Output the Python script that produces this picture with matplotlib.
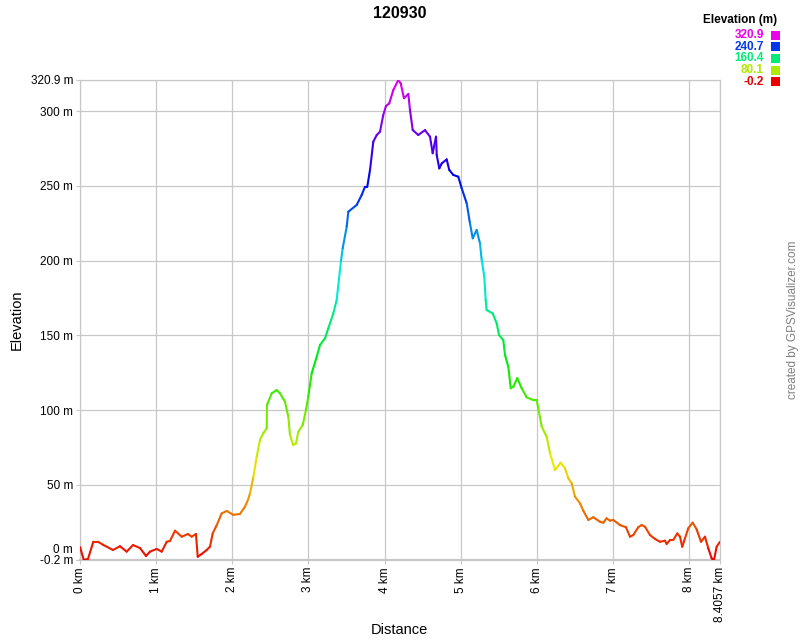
import numpy as np
import matplotlib
matplotlib.use("Agg")
import matplotlib.pyplot as plt
from matplotlib.collections import LineCollection
from matplotlib.colors import ListedColormap, Normalize, hsv_to_rgb
from matplotlib.patches import Rectangle
from matplotlib.transforms import ScaledTranslation

plt.rcParams['font.family'] = ['Liberation Sans', 'DejaVu Sans']

title = "120930"
distance_km = [
    0.000, 0.050, 0.105, 0.175, 0.236, 0.302, 0.433, 0.525, 0.613, 0.696, 0.788,
    0.867, 0.919, 1.007, 1.073, 1.139, 1.182, 1.248, 1.336, 1.418, 1.467, 1.523,
    1.546, 1.598, 1.664, 1.707, 1.743, 1.795, 1.861, 1.927, 2.013, 2.101, 2.167,
    2.206, 2.233, 2.276, 2.321, 2.364, 2.407, 2.452, 2.456, 2.518, 2.583, 2.627,
    2.692, 2.736, 2.758, 2.801, 2.837, 2.867, 2.925, 2.968, 2.998, 3.043, 3.109,
    3.152, 3.218, 3.261, 3.327, 3.371, 3.428, 3.450, 3.503, 3.524, 3.634, 3.700,
    3.743, 3.773, 3.809, 3.852, 3.897, 3.940, 3.983, 4.019, 4.062, 4.115, 4.180,
    4.212, 4.255, 4.312, 4.334, 4.370, 4.443, 4.531, 4.597, 4.632, 4.676, 4.685,
    4.719, 4.751, 4.816, 4.850, 4.903, 4.968, 5.013, 5.079, 5.122, 5.158, 5.210,
    5.253, 5.276, 5.310, 5.328, 5.341, 5.420, 5.473, 5.503, 5.559, 5.582, 5.625,
    5.657, 5.691, 5.743, 5.801, 5.867, 5.953, 5.998, 6.019, 6.064, 6.129, 6.173,
    6.238, 6.313, 6.370, 6.413, 6.458, 6.501, 6.567, 6.610, 6.676, 6.742, 6.829,
    6.873, 6.917, 6.961, 7.004, 7.092, 7.171, 7.223, 7.267, 7.332, 7.377, 7.420,
    7.486, 7.552, 7.617, 7.683, 7.705, 7.749, 7.792, 7.845, 7.880, 7.910, 7.946,
    7.989, 8.047, 8.099, 8.156, 8.208, 8.252, 8.296, 8.327, 8.362, 8.4057,
]
elevation_m = [
    8.5, -0.2, 0.5, 12.0, 12.0, 10.0, 6.5, 9.0, 5.4, 9.8, 7.8,
    2.5, 5.4, 7.2, 5.4, 12.0, 12.5, 19.4, 15.4, 17.2, 15.4, 17.2,
    2.0, 3.8, 6.5, 8.7, 17.6, 23.0, 31.0, 32.6, 30.0, 30.6, 35.5,
    40.0, 44.4, 55.0, 68.9, 80.1, 84.6, 87.9, 103.5, 111.3, 113.5, 111.3,
    105.7, 95.7, 83.4, 76.7, 77.8, 85.6, 90.1, 100.2, 109.0, 124.7, 135.8,
    143.6, 148.1, 154.8, 164.8, 173.7, 200.0, 208.3, 222.8, 232.8, 237.3, 244.0,
    249.5, 249.5, 260.7, 279.6, 284.1, 286.3, 297.5, 303.5, 305.3, 314.2, 320.9,
    318.7, 308.7, 311.5, 300.8, 287.4, 284.1, 287.4, 283.0, 271.9, 283.0, 270.7,
    261.8, 265.1, 267.8, 260.7, 257.4, 256.2, 248.5, 238.4, 225.0, 215.0, 220.6,
    211.6, 200.5, 189.3, 173.7, 167.0, 164.8, 158.1, 150.3, 146.9, 136.9, 129.1,
    114.7, 115.7, 121.4, 114.7, 108.6, 106.8, 106.8, 101.3, 89.0, 82.3, 71.2,
    60.0, 64.9, 61.2, 54.5, 51.1, 42.2, 37.7, 32.8, 26.6, 28.4, 25.4,
    24.8, 27.7, 26.1, 26.6, 23.2, 21.7, 15.4, 16.5, 21.7, 23.2, 22.1,
    16.5, 13.9, 12.0, 12.7, 10.5, 13.2, 13.2, 17.6, 15.4, 8.7, 14.3,
    21.0, 24.8, 20.3, 12.0, 15.4, 7.6, 0.9, -0.2, 8.7, 12.0,
]
y_ticks = [-0.2, 0, 50, 100, 150, 200, 250, 300, 320.9]
y_tick_labels = ["-0.2 m", "0 m", "50 m", "100 m", "150 m", "200 m", "250 m", "300 m", "320.9 m"]
x_ticks = [0, 1, 2, 3, 4, 5, 6, 7, 8, 8.4057]
x_tick_labels = ["0 km", "1 km", "2 km", "3 km", "4 km", "5 km", "6 km", "7 km", "8 km", "8.4057 km"]
legend_values = [320.9, 240.7, 160.4, 80.1, -0.2]
legend_labels = ["320.9", "240.7", "160.4", "80.1", "-0.2"]

# hue ramp red -> magenta
hues = np.linspace(0, 300 / 360, 256)
cmap = ListedColormap(hsv_to_rgb(np.stack([hues, np.ones_like(hues), np.full_like(hues, 0.92)], axis=1)))
norm = Normalize(vmin=min(y_ticks), vmax=max(y_ticks))

fig = plt.figure(figsize=(8, 6.4), dpi=100)
ax = fig.add_axes([0.1, 0.125, 0.8, 0.75])

x = np.array(distance_km)
y = np.array(elevation_m)
pts = np.column_stack([x, y]).reshape(-1, 1, 2)
segs = np.concatenate([pts[:-1], pts[1:]], axis=1)
lc = LineCollection(segs, cmap=cmap, norm=norm, linewidths=1.5, capstyle='round', joinstyle='round', zorder=3)
lc.set_array((y[:-1] + y[1:]) / 2)
ax.add_collection(lc)

ax.set_xlim(0, 8.4057)
ax.set_ylim(-0.2, 320.9)
ax.set_xticks(x_ticks)
ax.set_xticklabels(x_tick_labels, rotation=90, fontsize=8.5)
ax.set_yticks(y_ticks)
ax.set_yticklabels(y_tick_labels, fontsize=8.5)
ax.grid(True, color='#c8c8c8', linewidth=0.9)
ax.set_axisbelow(True)
ax.tick_params(axis='both', color='#c8c8c8', length=3, pad=2)
for sp in ax.spines.values():
    sp.set_color('#c8c8c8')
    sp.set_linewidth(0.9)
ax.spines['bottom'].set_linewidth(1.6)

# nudge "0 m" label up to avoid overlapping "-0.2 m"
for lbl in ax.get_yticklabels():
    if lbl.get_text() == "0 m":
        lbl.set_transform(lbl.get_transform() + ScaledTranslation(0, 8 / 72, fig.dpi_scale_trans))

fig.text(399 / 800, 1 - 630 / 640, "Distance", ha='center', va='center', fontsize=10.5)
fig.text(17 / 800, 1 - 320 / 640, "Elevation", ha='center', va='center', fontsize=10.5, rotation=90)
fig.text(0.5, 1 - 14 / 640, title, ha='center', va='center', fontsize=11.5, fontweight='bold')

# legend
fig.text(740 / 800, 1 - 20 / 640, "Elevation (m)", ha='center', va='center', fontsize=8.5, fontweight='bold')
for i, (v, lab) in enumerate(zip(legend_values, legend_labels)):
    yc = 1 - (35 + i * 11.7) / 640
    col = cmap(norm(v))
    fig.text(764 / 800, yc, lab, ha='right', va='center', fontsize=8.5, fontweight='bold', color=col)
    fig.add_artist(Rectangle((771 / 800, yc - 4.5 / 640), 9 / 800, 9 / 640, transform=fig.transFigure,
                             facecolor=col, edgecolor='none'))

fig.text(793 / 800, 1 - 320 / 640, "created by GPSVisualizer.com", rotation=90, ha='center', va='center',
         fontsize=8.5, color='#808080')

fig.savefig("out.png", dpi=100)
